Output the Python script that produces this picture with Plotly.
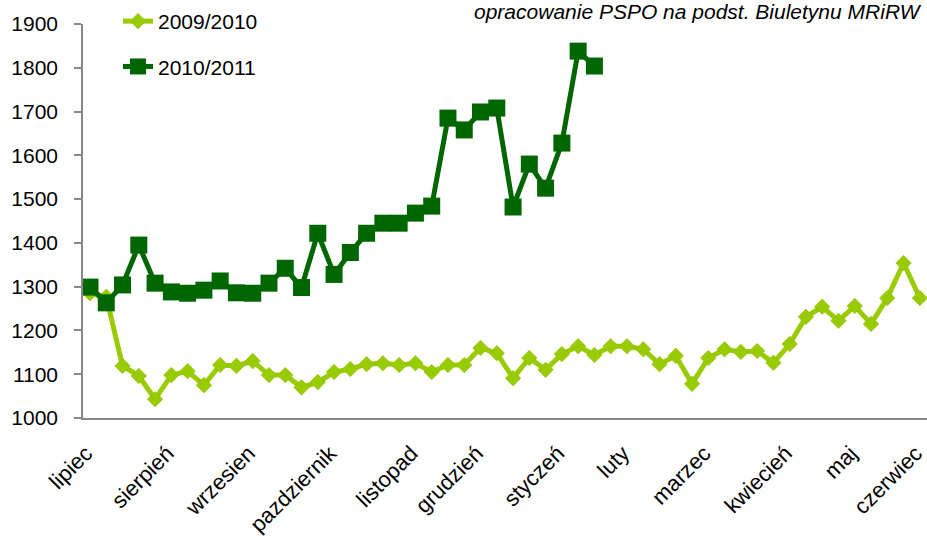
import plotly.graph_objects as go

# month labels and the week index where each one sits on the axis
months = ["lipiec", "sierpień", "wrzesien", "pazdziernik", "listopad", "grudzień",
          "styczeń", "luty", "marzec", "kwiecień", "maj", "czerwiec"]
month_week = [0, 5, 10, 15, 20, 24, 29, 33, 38, 43, 47, 51]

season_0910 = [1285, 1277, 1119, 1096, 1043, 1098, 1107, 1075, 1121, 1119,
               1130, 1098, 1098, 1070, 1082, 1105, 1112, 1123, 1125, 1121,
               1125, 1105, 1121, 1121, 1160, 1148, 1091, 1137, 1110, 1146,
               1164, 1144, 1164, 1164, 1157, 1123, 1142, 1078, 1137, 1157,
               1151, 1153, 1126, 1169, 1231, 1254, 1222, 1256, 1215, 1274,
               1354, 1274]
season_1011 = [1299, 1263, 1304, 1395, 1308, 1288, 1285, 1292, 1313, 1286,
               1285, 1308, 1342, 1298, 1422, 1328, 1378, 1422, 1445, 1445,
               1468, 1484, 1685, 1658, 1699, 1708, 1482, 1580, 1525, 1628,
               1838, 1804]

weeks_0910 = list(range(len(season_0910)))
weeks_1011 = list(range(len(season_1011)))

FONT = "Liberation Sans, Arial, sans-serif"

fig = go.Figure()
fig.add_trace(go.Scatter(
    x=weeks_0910, y=season_0910, name="2009/2010", mode="lines+markers",
    legendgroup="a",
    line=dict(color="#99cc00", width=5),
    marker=dict(symbol="diamond", size=12, color="#99cc00",
                line=dict(color="#8cba00", width=0.5)),
))
fig.add_trace(go.Scatter(
    x=weeks_1011, y=season_1011, name="2010/2011", mode="lines+markers",
    legendgroup="b",
    line=dict(color="#006600", width=5),
    marker=dict(symbol="square", size=17, color="#006600"),
))

fig.update_layout(
    width=927, height=538,
    margin=dict(l=83, r=0, t=24, b=120, autoexpand=False),
    paper_bgcolor="white", plot_bgcolor="white",
    font=dict(family=FONT, size=21, color="black"),
    showlegend=True,
    legend=dict(
        xref="container", yref="container",
        x=118 / 927, y=1 - 1 / 538, xanchor="left", yanchor="top",
        bgcolor="rgba(0,0,0,0)", traceorder="grouped", tracegroupgap=15,
        font=dict(family=FONT, size=21, color="black"),
    ),
    annotations=[dict(
        text="<i>opracowanie PSPO na podst. Biuletynu MRiRW</i>",
        xref="paper", yref="paper", x=(472 - 83) / 844, y=1 + 12 / 394,
        xanchor="left", yanchor="middle", showarrow=False,
        font=dict(family=FONT, size=21, color="black"),
    )],
)

fig.update_xaxes(
    range=[-0.43, 51.44], automargin=False,
    tickmode="array", tickvals=month_week, ticktext=months,
    tickangle=-45, ticks="", showgrid=False, zeroline=False,
    showline=True, linecolor="#888888", linewidth=1.5,
    ticklabelstandoff=12, ticklabelshift=-4, ticklabeloverflow="allow",
    tickfont=dict(family=FONT, size=22, color="black"),
)
fig.update_yaxes(
    range=[1000, 1900], automargin=False, tickmode="array",
    tickvals=[1000, 1100, 1200, 1300, 1400, 1500, 1600, 1700, 1800, 1900],
    ticks="outside", ticklen=7, tickcolor="#888888", tickwidth=1.5,
    showgrid=False, zeroline=False,
    showline=True, linecolor="#888888", linewidth=1.5,
    ticklabelstandoff=12,
    tickfont=dict(family=FONT, size=21, color="black"),
)

# drop the default page margin so the figure sits at the window's corner
fig.write_html("out.html", config={"displayModeBar": False},
               post_script="document.body.style.margin='0';")
